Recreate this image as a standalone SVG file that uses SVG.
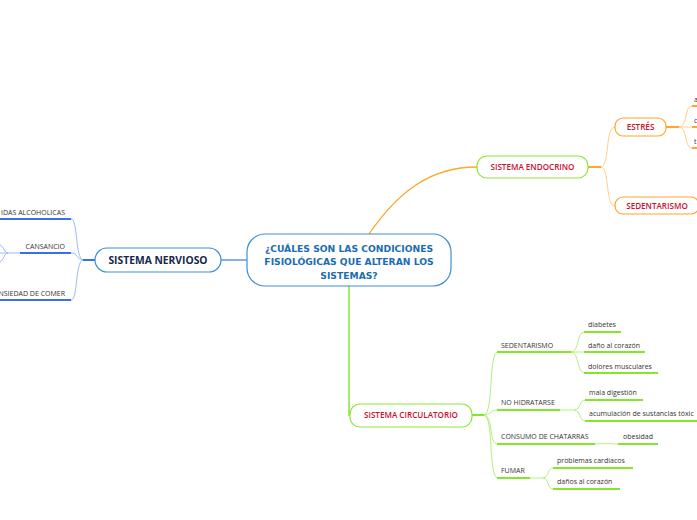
<svg xmlns="http://www.w3.org/2000/svg" width="697" height="520" viewBox="0 0 697 520">
<style>
text{font-family:"Open Sans","Noto Sans","DejaVu Sans",sans-serif}
.lbl{font-size:7px;fill:#333}
.red{font-size:8.1px;font-weight:600;fill:#c8102e;text-anchor:middle}
.ul-g{stroke:#84e62c;stroke-width:2;fill:none}
.cv-g{stroke:#b6f07a;stroke-width:1;fill:none}
.ul-b{stroke:#3b6fe6;stroke-width:2;fill:none}
.cv-b{stroke:#9cb9f6;stroke-width:1;fill:none}
.ul-o{stroke:#ffa62b;stroke-width:2;fill:none}
.cv-o{stroke:#ffcf8a;stroke-width:1;fill:none}
.ctr{font-family:"DejaVu Sans","Verdana",sans-serif;font-size:9.2px;font-weight:700;fill:#1a6db3;text-anchor:middle}
</style>
<rect width="697" height="520" fill="#fff"/>
<g id="connectors">
<path d="M247,260 H221" stroke="#3b78e7" stroke-width="1.2" fill="none"/>
<path d="M369,234 C398,192 430,167 477,167" stroke="#ffa62b" stroke-width="1.3" fill="none"/>
<path d="M349,286 V416" stroke="#84e62c" stroke-width="1.5" fill="none"/>
<path d="M95,260 H83" class="ul-b" stroke-width="1.5"/>
<path class="cv-b" d="M83,260 C75,258 78,219 71,219"/>
<path class="cv-b" d="M83,260 C76,259 78,253 71,253"/>
<path class="cv-b" d="M83,260 C75,262 78,300 71,300"/>
<path class="ul-b" d="M0,219 H71"/>
<path class="ul-b" d="M20,253 H71"/>
<path class="cv-b" d="M0,253 H20"/>
<path class="cv-b" d="M8,253 C4,253 4,246 0,245"/>
<path class="cv-b" d="M8,253 C4,253 4,260 0,262"/>
<path class="ul-b" d="M0,300 H71"/>
<path class="ul-o" d="M588,167 H601" stroke-width="1.5"/>
<path class="cv-o" d="M601,167 C610,165 605,127 615,127"/>
<path class="cv-o" d="M601,167 C610,169 605,206 615,206"/>
<path class="ul-o" d="M666,127 H679" stroke-width="1.5"/>
<path class="cv-o" d="M679,127 C688,126 684,106 692,106"/>
<path class="cv-o" d="M679,127 H692"/>
<path class="cv-o" d="M679,127 C688,128 684,148 692,148"/>
<path class="ul-o" d="M692,106 H697"/>
<path class="ul-o" d="M692,127 H697"/>
<path class="ul-o" d="M692,148 H697"/>
<path class="ul-g" d="M472,415 H484" stroke-width="1.5"/>
<path class="cv-g" d="M484,415 C494,413 488,352 498,352"/>
<path class="cv-g" d="M484,415 C492,414 490,410 498,410"/>
<path class="cv-g" d="M484,415 C494,417 488,444 498,444"/>
<path class="cv-g" d="M484,415 C494,417 488,478 498,478"/>
<path class="ul-g" d="M497,352 H571"/>
<path class="ul-g" d="M497,410 H560"/>
<path class="ul-g" d="M497,444 H595"/>
<path class="ul-g" d="M497,478 H530"/>
<path class="cv-g" d="M571,352 C580,351 576,332 585,332"/>
<path class="cv-g" d="M571,352 H585"/>
<path class="cv-g" d="M571,352 C580,353 576,373 585,373"/>
<path class="ul-g" d="M584,332 H621"/>
<path class="ul-g" d="M584,352 H645"/>
<path class="ul-g" d="M584,373 H658"/>
<path class="cv-g" d="M560,410 H574"/>
<path class="cv-g" d="M574,410 C582,409 578,400 586,400"/>
<path class="cv-g" d="M574,410 C582,411 578,421 586,421"/>
<path class="ul-g" d="M585,400 H643"/>
<path class="ul-g" d="M585,421 H697"/>
<path class="cv-g" d="M595,444 C605,443 610,444 618,444"/>
<path class="ul-g" d="M618,444 H658"/>
<path class="cv-g" d="M530,478 H543"/>
<path class="cv-g" d="M543,478 C550,477 546,468 554,468"/>
<path class="cv-g" d="M543,478 C550,479 546,489 554,489"/>
<path class="ul-g" d="M553,468 H633"/>
<path class="ul-g" d="M553,489 H620"/>
</g>
<g id="central">
<rect x="247" y="234" width="204" height="52" rx="18" fill="#fff" stroke="#3a8fd6" stroke-width="1.2"/>
<text class="ctr" x="349" y="252">¿CUÁLES SON LAS CONDICIONES</text>
<text class="ctr" x="349" y="265">FISIOLÓGICAS QUE ALTERAN LOS</text>
<text class="ctr" x="349" y="278.5">SISTEMAS?</text>
</g>
<g id="nervioso">
<rect x="95" y="248" width="126" height="24" rx="12" fill="#fff" stroke="#3a8fd6" stroke-width="1.2"/>
<text x="158" y="263.5" font-size="10.3" font-weight="700" fill="#15284a" text-anchor="middle">SISTEMA NERVIOSO</text>
</g>
<g id="bebidas"><text class="lbl" x="65" y="215" text-anchor="end">IDAS ALCOHOLICAS</text></g>
<g id="cansancio"><text class="lbl" x="65" y="249" text-anchor="end">CANSANCIO</text></g>
<g id="ansiedad"><text class="lbl" x="65" y="296" text-anchor="end">NSIEDAD DE COMER</text></g>
<g id="endocrino">
<rect x="477" y="156" width="111" height="22" rx="10" fill="#fff" stroke="#8ee63a" stroke-width="1.2"/>
<text class="red" x="532.5" y="170">SISTEMA ENDOCRINO</text>
</g>
<g id="estres">
<rect x="615" y="118" width="51" height="18" rx="8" fill="#fff" stroke="#ffa62b" stroke-width="1.2"/>
<text class="red" x="640.5" y="130">ESTRÉS</text>
</g>
<g id="sedentarismo-e">
<rect x="615" y="197" width="84" height="17" rx="8" fill="#fff" stroke="#ffa62b" stroke-width="1.2"/>
<text class="red" x="657" y="208.5">SEDENTARISMO</text>
</g>
<g id="estres-a"><text class="lbl" x="694" y="102">a</text></g>
<g id="estres-c"><text class="lbl" x="694" y="123">c</text></g>
<g id="estres-t"><text class="lbl" x="694" y="144">t</text></g>
<g id="circulatorio">
<rect x="350" y="404" width="122" height="23" rx="10" fill="#fff" stroke="#8ee63a" stroke-width="1.2"/>
<text class="red" x="411" y="418">SISTEMA CIRCULATORIO</text>
</g>
<g id="sedentarismo-c"><text class="lbl" x="501" y="348">SEDENTARISMO</text></g>
<g id="nohidratarse"><text class="lbl" x="501" y="405">NO HIDRATARSE</text></g>
<g id="consumo"><text class="lbl" x="501" y="439">CONSUMO DE CHATARRAS</text></g>
<g id="fumar"><text class="lbl" x="501" y="473">FUMAR</text></g>
<g id="diabetes"><text class="lbl" x="588" y="327">diabetes</text></g>
<g id="dano"><text class="lbl" x="588" y="348">daño al corazón</text></g>
<g id="dolores"><text class="lbl" x="588" y="369">dolores musculares</text></g>
<g id="mala"><text class="lbl" x="589" y="395">mala digestión</text></g>
<g id="acumulacion"><text class="lbl" x="589" y="416">acumulación de sustancias tóxic</text></g>
<g id="obesidad"><text class="lbl" x="623" y="439">obesidad</text></g>
<g id="problemas"><text class="lbl" x="557" y="463">problemas cardiacos</text></g>
<g id="danos"><text class="lbl" x="557" y="484">daños al corazón</text></g>
</svg>
